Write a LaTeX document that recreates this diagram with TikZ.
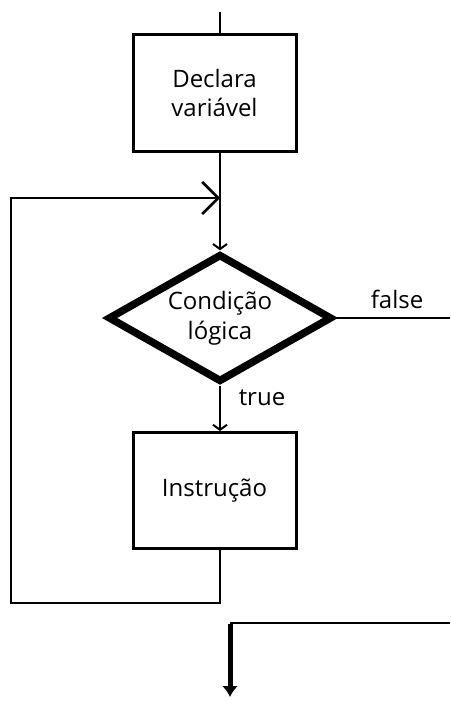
\documentclass[tikz,border=0pt]{standalone}
\usepackage{fontspec}
\setmainfont{Open Sans}
\usetikzlibrary{shapes.geometric,arrows.meta}
\begin{document}
\begin{tikzpicture}[x=1pt,y=-1pt,
  flow/.style={line width=2.6pt},
  procbox/.style={draw,line width=3pt,minimum width=163pt,minimum height=116pt,inner sep=0pt,align=center,font=\fontsize{24}{29}\selectfont},
  decision/.style={draw,diamond,shape aspect=1.75,line width=7.5pt,minimum width=224pt,minimum height=128pt,inner sep=0pt,align=center,font=\fontsize{24}{30}\selectfont},
  lbl/.style={font=\fontsize{24}{28}\selectfont,inner sep=0pt},
  smallbarb/.style={-{Straight Barb[length=5pt,width=14pt,line width=2pt]}},
  bigbarb/.style={-{Straight Barb[length=16pt,width=32pt,line width=2.6pt]}}
]
\useasboundingbox (0,0) rectangle (450,701);

% shapes
\coordinate (start) at (220,12);
\node[procbox] (decl) at (214.5,93) {Declara\\variável};
\node[decision] (cond) at (220,318) {Condição\\lógica};
\node[procbox] (instr) at (214.5,490.5) {Instrução};

% helper points
\coordinate (join) at (220,198);
\coordinate (loopA) at (220,603);
\coordinate (loopB) at (11,603);
\coordinate (loopC) at (11,198);
\coordinate (falseEnd) at (450,318);
\coordinate (exitIn) at (450,623);
\coordinate (exitTurn) at (230,623);
\coordinate (exitEnd) at (230,697);

% connectors
\draw[flow] (start) -- (start |- decl.north);
\draw[flow,smallbarb] (decl.south -| start) -- (cond.north);
\draw[flow,smallbarb] (cond.south) -- (instr.north -| cond.south);
\draw[flow] (cond.east) -- (falseEnd);
\draw[flow] (instr.south -| loopA) -- (loopA) -- (loopB) -- (loopC) -- (join);
\draw[flow,bigbarb] (loopC) -- (join);
\draw[line width=2.6pt] (exitIn) -- (exitTurn);
\draw[line width=5pt,-{Latex[length=11pt,width=16pt]}] ([yshift=-1.2pt]exitTurn) -- (exitEnd);

% labels
\node[lbl] (lfalse) at (397,299) {false};
\node[lbl] (ltrue) at (262,398) {true};
\end{tikzpicture}
\end{document}
